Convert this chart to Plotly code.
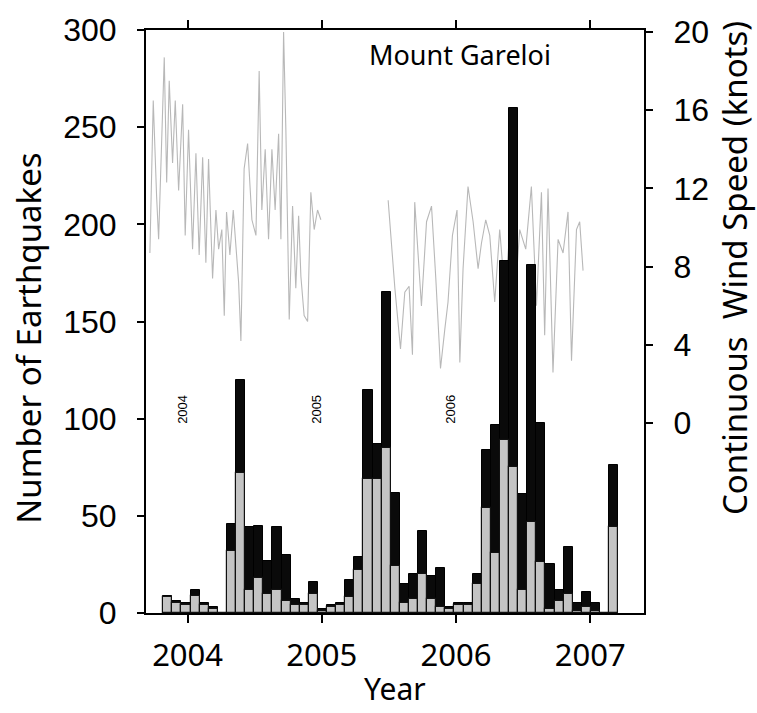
import plotly.graph_objects as go

# Monthly-ish earthquake counts at Mount Gareloi (equal-width bins, decimal years)
first_bin_centre = 2003.852
bin_width = 0.0678
total_counts = [9, 6, 5, 12, 5, 3, 0, 46, 120, 44,
                45, 27, 44, 30, 7, 5, 16, 2, 4, 5,
                17, 29, 115, 87, 165, 62, 15, 20, 42, 19,
                23, 3, 5, 5, 20, 84, 97, 181, 260, 61,
                179, 98, 25, 12, 34, 5, 11, 5, 0, 76]
subset_counts = [8, 5, 4, 9, 4, 2, 0, 32, 72, 12,
                 18, 10, 12, 6, 4, 4, 10, 1, 3, 4,
                 8, 22, 69, 69, 85, 24, 5, 7, 20, 7,
                 3, 2, 4, 4, 15, 54, 31, 89, 75, 12,
                 47, 26, 2, 6, 10, 1, 3, 1, 0, 44]
bin_centres = [first_bin_centre + k * bin_width for k in range(len(total_counts))]

# Continuous wind speed (knots), two recording periods
wind_t1 = [2003.719, 2003.744, 2003.769, 2003.784, 2003.826, 2003.844, 2003.863, 2003.888,
           2003.908, 2003.933, 2003.963, 2003.982, 2004.007, 2004.037, 2004.062, 2004.086,
           2004.112, 2004.136, 2004.156, 2004.186, 2004.211, 2004.231, 2004.255, 2004.273,
           2004.290, 2004.315, 2004.340, 2004.380, 2004.397, 2004.421, 2004.447, 2004.479,
           2004.509, 2004.533, 2004.553, 2004.578, 2004.603, 2004.628, 2004.652, 2004.678,
           2004.695, 2004.715, 2004.732, 2004.757, 2004.782, 2004.806, 2004.827, 2004.844,
           2004.868, 2004.894, 2004.918, 2004.943, 2004.968, 2004.993]
wind_v1 = [8.7, 16.5, 11.6, 9.4, 18.7, 12.3, 17.5, 13.3,
           16.5, 11.9, 16.3, 9.6, 15.0, 8.9, 13.8, 8.6,
           13.6, 8.2, 13.5, 7.4, 10.9, 8.9, 9.9, 5.5,
           10.8, 8.6, 10.9, 7.2, 4.2, 13.0, 14.3, 10.4,
           9.6, 18.0, 10.9, 14.0, 9.4, 14.0, 10.9, 14.8,
           9.4, 20.0, 15.0, 5.3, 11.1, 6.9, 10.6, 7.5,
           5.5, 5.2, 11.8, 9.9, 10.9, 10.4]
wind_t2 = [2005.494, 2005.544, 2005.586, 2005.618, 2005.650, 2005.675, 2005.692, 2005.742,
           2005.780, 2005.817, 2005.849, 2005.884, 2005.916, 2005.940, 2005.973, 2006.007,
           2006.028, 2006.052, 2006.089, 2006.127, 2006.164, 2006.189, 2006.221, 2006.251,
           2006.288, 2006.325, 2006.363, 2006.400, 2006.437, 2006.474, 2006.519, 2006.561,
           2006.599, 2006.636, 2006.660, 2006.685, 2006.722, 2006.760, 2006.797, 2006.834,
           2006.860, 2006.897, 2006.921, 2006.946]
wind_v2 = [11.4, 6.9, 3.8, 6.7, 7.0, 3.5, 11.3, 6.0,
           10.3, 11.1, 7.4, 2.8, 4.8, 6.2, 9.6, 10.9,
           3.1, 7.9, 12.1, 10.3, 7.9, 9.2, 10.4, 9.6,
           6.2, 9.9, 6.7, 9.7, 6.2, 9.9, 8.9, 12.1,
           6.0, 11.8, 4.5, 12.0, 2.6, 9.4, 8.7, 10.8,
           3.2, 9.9, 10.3, 7.8]

year_ticks = [2004, 2005, 2006, 2007]
quake_ticks = [0, 50, 100, 150, 200, 250, 300]
wind_ticks = [0, 4, 8, 12, 16, 20]
period_labels = ["2004", "2005", "2006"]
period_label_x = [2003.965, 2004.963, 2005.960]

TEXT_FONT = "Noto Sans"
NUM_FONT = "Liberation Sans"

fig = go.Figure()

# wind speed underneath the bars (base y axis, shown on the right)
for t, v in ((wind_t1, wind_v1), (wind_t2, wind_v2)):
    fig.add_trace(go.Scatter(x=t, y=v, mode="lines", yaxis="y",
                             line=dict(color="#b8b8b8", width=1.1),
                             showlegend=False, hoverinfo="skip"))

# earthquake counts (overlaying axis, shown on the left)
fig.add_trace(go.Bar(x=bin_centres, y=total_counts, width=bin_width, yaxis="y2",
                     marker=dict(color="#0a0a0a", line=dict(color="#000000", width=1)),
                     showlegend=False))
fig.add_trace(go.Bar(x=bin_centres, y=subset_counts, width=bin_width, yaxis="y2",
                     marker=dict(color="#c4c4c4", line=dict(color="#111111", width=1.2)),
                     showlegend=False))

axis_common = dict(showline=True, linecolor="black", linewidth=2,
                   ticks="outside", tickcolor="black", tickwidth=2,
                   showgrid=False, zeroline=False)

fig.update_layout(
    width=757, height=713,
    margin=dict(l=146, r=113, t=26, b=100),
    paper_bgcolor="white", plot_bgcolor="white",
    barmode="overlay", bargap=0,
    xaxis=dict(range=[2003.69, 2007.40], tickvals=year_ticks,
               ticklen=8, mirror="ticks", ticklabelstandoff=6,
               tickfont=dict(family=TEXT_FONT, size=31, color="black"),
               **axis_common),
    yaxis=dict(side="right", range=[-9.7, 20.1], tickvals=wind_ticks,
               ticklen=7, ticklabelstandoff=14,
               tickfont=dict(family=NUM_FONT, size=32, color="black"),
               **axis_common),
    yaxis2=dict(side="left", overlaying="y", range=[0, 300], tickvals=quake_ticks,
                ticklen=7, ticklabelstandoff=14,
                tickfont=dict(family=NUM_FONT, size=32, color="black"),
                **axis_common),
)

centred = dict(xanchor="center", yanchor="middle", showarrow=False)
annotations = [
    dict(text="Number of Earthquakes", x=-0.235, y=0.472, xref="paper", yref="paper",
         textangle=-90, font=dict(family=TEXT_FONT, size=33, color="black"), **centred),
    dict(text="Continuous\u00a0\u00a0Wind Speed (knots)", x=1.183, y=0.592,
         xref="paper", yref="paper", textangle=-90,
         font=dict(family=TEXT_FONT, size=33, color="black"), **centred),
    dict(text="Year", x=0.5, y=-0.129, xref="paper", yref="paper",
         font=dict(family=TEXT_FONT, size=30, color="black"), **centred),
    dict(text="Mount Gareloi", x=0.631, y=0.958, xref="paper", yref="paper",
         font=dict(family=TEXT_FONT, size=27, color="black"), **centred),
]
for label, xpos in zip(period_labels, period_label_x):
    annotations.append(dict(text=label, x=xpos, y=105, xref="x", yref="y2",
                            textangle=-90,
                            font=dict(family=NUM_FONT, size=13, color="black"), **centred))
fig.update_layout(annotations=annotations)

fig.write_html("out.html")
